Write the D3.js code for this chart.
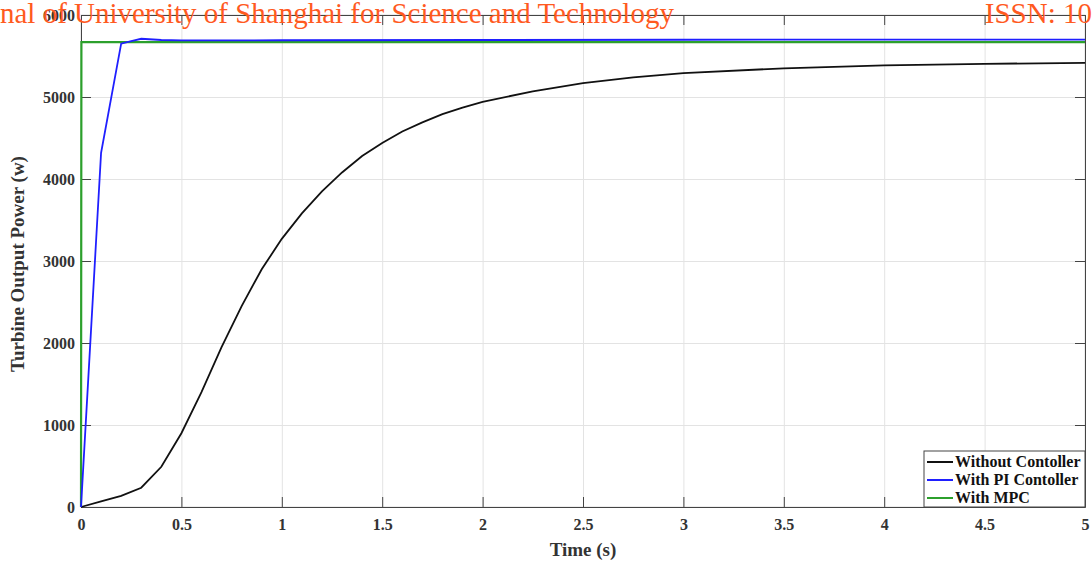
<!DOCTYPE html>
<html>
<head>
<meta charset="utf-8">
<script src="https://cdn.jsdelivr.net/npm/d3@7"></script>
<style>
  body { margin: 0; background: #fff; }
  .axis text { font-family: "Liberation Serif", "Times New Roman", serif; font-weight: bold; font-size: 16px; fill: #333; }
  .axis path, .axis line { stroke: #444; }
  .grid line { stroke: #e3e3e3; }
  .grid path { display: none; }
</style>
</head>
<body>
<script>
var times = [0, 0.1, 0.2, 0.3, 0.4, 0.5, 0.6, 0.7, 0.8, 0.9, 1.0, 1.1, 1.2, 1.3, 1.4, 1.5, 1.6, 1.7, 1.8, 1.9, 2.0, 2.25, 2.5, 2.75, 3.0, 3.5, 4.0, 4.5, 5.0];
var noCtrl = [0, 70, 135, 235, 490, 900, 1400, 1950, 2450, 2900, 3270, 3580, 3850, 4080, 4280, 4440, 4580, 4690, 4790, 4870, 4940, 5070, 5170, 5240, 5290, 5350, 5385, 5405, 5415];
var piTimes = [0, 0.1, 0.2, 0.25, 0.3, 0.4, 0.5, 1, 2, 3, 4, 5];
var piCtrl = [0, 4320, 5650, 5680, 5710, 5695, 5690, 5692, 5695, 5698, 5700, 5700];
var mpcTimes = [0, 0.002, 5];
var mpc = [0, 5670, 5670];
var legendNames = ["Without Contoller", "With PI Contoller", "With MPC"];
var colors = ["#111111", "#1f1fff", "#2ca02c"];
var xTicks = [0, 0.5, 1, 1.5, 2, 2.5, 3, 3.5, 4, 4.5, 5];
var yTicks = [0, 1000, 2000, 3000, 4000, 5000, 6000];

var w = 1092, h = 567;
var mLeft = 81, mRight = 1085, mTop = 15, mBottom = 507;

var svg = d3.select("body").append("svg").attr("width", w).attr("height", h);

var x = d3.scaleLinear().domain([0, 5]).range([mLeft, mRight]);
var y = d3.scaleLinear().domain([0, 6000]).range([mBottom, mTop]);

// grid
svg.append("g").attr("class", "grid")
   .attr("transform", "translate(0," + mBottom + ")")
   .call(d3.axisBottom(x).tickValues(xTicks).tickSize(-(mBottom - mTop)).tickFormat(""));
svg.append("g").attr("class", "grid")
   .attr("transform", "translate(" + mLeft + ",0)")
   .call(d3.axisLeft(y).tickValues(yTicks).tickSize(-(mRight - mLeft)).tickFormat(""));

// box
svg.append("rect").attr("x", mLeft).attr("y", mTop).attr("width", mRight - mLeft).attr("height", mBottom - mTop)
   .attr("fill", "none").attr("stroke", "#dcdcdc");

// axes with inward ticks
svg.append("g").attr("class", "axis")
   .attr("transform", "translate(0," + mBottom + ")")
   .call(d3.axisBottom(x).tickValues(xTicks).tickSizeInner(-10).tickSizeOuter(0).tickPadding(12).tickFormat(d3.format("")))
   .call(function (g) { g.select(".domain").attr("stroke", "#e0e0e0"); });
svg.append("g").attr("class", "axis")
   .attr("transform", "translate(" + mLeft + ",0)")
   .call(d3.axisLeft(y).tickValues(yTicks).tickSizeInner(-10).tickSizeOuter(0).tickPadding(6).tickFormat(d3.format("d")))
   .call(function (g) { g.select(".domain").attr("stroke", "#555"); });
svg.append("g").attr("class", "axis")
   .attr("transform", "translate(0," + mTop + ")")
   .call(d3.axisTop(x).tickValues(xTicks).tickSizeInner(-10).tickSizeOuter(0).tickFormat(""))
   .call(function (g) { g.select(".domain").attr("stroke", "#e0e0e0"); });
svg.append("g").attr("class", "axis")
   .attr("transform", "translate(" + mRight + ",0)")
   .call(d3.axisRight(y).tickValues(yTicks).tickSizeInner(-10).tickSizeOuter(0).tickFormat(""))
   .call(function (g) { g.select(".domain").attr("stroke", "#555"); });

// lines
var line = d3.line().x(function (d) { return x(d[0]); }).y(function (d) { return y(d[1]); });
var series = [
  d3.zip(times, noCtrl),
  d3.zip(piTimes, piCtrl),
  d3.zip(mpcTimes, mpc)
];
// MPC first, then black, PI on top
[2, 0, 1].forEach(function (i) {
  svg.append("path").datum(series[i])
     .attr("d", line)
     .attr("fill", "none")
     .attr("stroke", colors[i])
     .attr("stroke-width", i == 2 ? 2.2 : 1.8);
});

// legend
var lg = svg.append("g").attr("transform", "translate(924,451)");
lg.append("rect").attr("width", 161).attr("height", 56).attr("fill", "#fff").attr("stroke", "#444");
legendNames.forEach(function (n, i) {
  var yy = 11 + i * 18;
  lg.append("line").attr("x1", 3).attr("x2", 29).attr("y1", yy).attr("y2", yy)
    .attr("stroke", colors[i]).attr("stroke-width", 2);
  lg.append("text").attr("x", 31).attr("y", yy + 5).text(n)
    .attr("font-family", "Liberation Serif, serif").attr("font-weight", "bold")
    .attr("font-size", "16px").attr("fill", "#111");
});

// axis titles
svg.append("text").attr("x", (mLeft + mRight) / 2).attr("y", 556).attr("text-anchor", "middle")
   .attr("font-family", "Liberation Serif, serif").attr("font-weight", "bold").attr("font-size", "19px")
   .attr("fill", "#333").text("Time (s)");
svg.append("text").attr("transform", "translate(24," + ((mTop + mBottom) / 2 + 3) + ") rotate(-90)")
   .attr("text-anchor", "middle")
   .attr("font-family", "Liberation Serif, serif").attr("font-weight", "bold").attr("font-size", "19px")
   .attr("fill", "#333").text("Turbine Output Power (w)");

// journal header
svg.append("text").attr("x", 0).attr("y", 23)
   .attr("font-family", "Liberation Serif, serif").attr("font-size", "29px").attr("fill", "#ff5a1f")
   .text("nal of University of Shanghai for Science and Technology");
svg.append("text").attr("x", 1092).attr("y", 23).attr("text-anchor", "end")
   .attr("font-family", "Liberation Serif, serif").attr("font-size", "29px").attr("fill", "#ff5a1f")
   .text("ISSN: 10");
</script>
</body>
</html>
